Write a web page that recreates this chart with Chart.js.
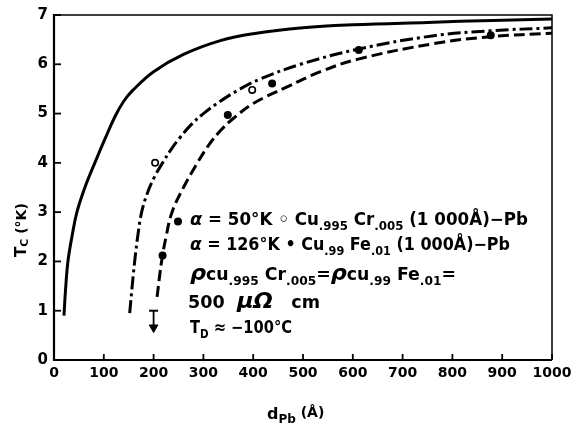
<!DOCTYPE html>
<html lang="en">
<head>
<meta charset="UTF-8">
<title>Tc vs dPb</title>
<script src="https://cdn.jsdelivr.net/npm/chart.js"></script>
<style>
  body { margin: 0; padding: 0; background: #fff; }
  canvas { display: block; }
</style>
</head>
<body>
<canvas id="tcChart" width="578" height="425"></canvas>
<script>
// Pb thickness (Angstrom) vs transition temperature (K)
const xTicks = [0, 100, 200, 300, 400, 500, 600, 700, 800, 900, 1000];
const yTicks = [0, 1, 2, 3, 4, 5, 6, 7];

// solid curve
const solidX = [20, 23, 28, 36, 46, 62, 82, 103, 123, 140, 158, 200, 260, 334, 400, 500, 600, 750, 880, 1000];
const solidY = [0.9, 1.4, 2.0, 2.5, 3.0, 3.5, 4.0, 4.5, 4.95, 5.25, 5.47, 5.85, 6.2, 6.48, 6.62, 6.74, 6.8, 6.85, 6.89, 6.92];

// dash-dot curve, alpha = 50 K (Cu.995 Cr.005)
const crX = [152, 157, 162, 168, 176, 188, 202, 218, 235, 252, 275, 300, 334, 374, 414, 495, 612, 763, 877, 1000];
const crY = [0.95, 1.5, 2.0, 2.5, 3.0, 3.4, 3.72, 4.0, 4.27, 4.5, 4.77, 5.0, 5.25, 5.5, 5.7, 6.0, 6.31, 6.58, 6.68, 6.74];

// dashed curve, alpha = 126 K (Cu.99 Fe.01)
const feX = [207, 212, 216, 225, 237, 260, 285, 310, 334, 360, 401, 468, 535, 609, 763, 877, 1000];
const feY = [1.28, 1.7, 2.0, 2.5, 3.0, 3.5, 3.95, 4.35, 4.65, 4.9, 5.21, 5.54, 5.85, 6.1, 6.42, 6.56, 6.63];

// measured points
const openX = [203, 398];
const openY = [4.0, 5.48];
const filledX = [218, 249, 349, 438, 612, 877];
const filledY = [2.12, 2.81, 4.97, 5.61, 6.29, 6.59];

// upper limit marker
const arrowX = [200, 200];
const arrowY = [1.0, 0.66];

// annotation text: [text, kind] n=normal, s=subscript, g=greek, G=big greek
const noteLine1 = [['α', 'g'], [' = 50°K ◦ Cu', 'n'], ['.995', 's'], [' Cr', 'n'], ['.005', 's'], [' (1 000Å)−Pb', 'n']];
const noteLine2 = [['α', 'g'], [' = 126°K • Cu', 'n'], ['.99', 's'], [' Fe', 'n'], ['.01', 's'], [' (1 000Å)−Pb', 'n']];
const noteLine3 = [['ρ', 'G'], ['cu', 'n'], ['.995', 's'], [' Cr', 'n'], ['.005', 's'], ['=', 'n'], ['ρ', 'G'], ['cu', 'n'], ['.99', 's'], [' Fe', 'n'], ['.01', 's'], ['=', 'n']];
const noteLine4 = [['500  ', 'n'], ['μΩ', 'G'], ['   cm', 'n']];
const noteLine5 = [['T', 'n'], ['D', 's'], [' ≈ −100°C', 'n']];

function pts(xs, ys) {
    return xs.map((x, i) => ({ x: x, y: ys[i] }));
}

const FONT = '"DejaVu Sans", "Liberation Sans", sans-serif';
const kindFont = {
    n: 'bold 17px ' + FONT,
    s: 'bold 12px ' + FONT,
    g: 'italic bold 18px ' + FONT,
    G: 'italic bold 22px ' + FONT
};
const kindDrop = { n: 0, s: 5, g: 0, G: 0 };

function drawRich(ctx, segs, x, y, width) {
    let total = 0;
    segs.forEach(s => { ctx.font = kindFont[s[1]]; total += ctx.measureText(s[0]).width; });
    ctx.save();
    ctx.translate(x, y);
    ctx.scale(width / total, 1);
    let cx = 0;
    segs.forEach(s => {
        ctx.font = kindFont[s[1]];
        ctx.fillText(s[0], cx, kindDrop[s[1]]);
        cx += ctx.measureText(s[0]).width;
    });
    ctx.restore();
}

const framePlugin = {
    id: 'frame',
    afterDraw(chart) {
        const ctx = chart.ctx;
        const a = chart.chartArea;
        const sx = chart.scales.x, sy = chart.scales.y;
        ctx.save();
        ctx.strokeStyle = '#000';
        ctx.fillStyle = '#000';
        // top and right (thin)
        ctx.lineWidth = 1.5;
        ctx.beginPath();
        ctx.moveTo(a.left, a.top); ctx.lineTo(a.right, a.top); ctx.lineTo(a.right, a.bottom);
        ctx.stroke();
        // left and bottom (thick)
        ctx.lineWidth = 2.2;
        ctx.beginPath();
        ctx.moveTo(a.left, a.top - 1); ctx.lineTo(a.left, a.bottom); ctx.lineTo(a.right, a.bottom);
        ctx.stroke();
        // inward ticks
        ctx.lineWidth = 1.8;
        xTicks.forEach(v => {
            const px = sx.getPixelForValue(v);
            ctx.beginPath(); ctx.moveTo(px, a.bottom); ctx.lineTo(px, a.bottom - 6); ctx.stroke();
        });
        yTicks.forEach(v => {
            const py = sy.getPixelForValue(v);
            ctx.beginPath(); ctx.moveTo(a.left, py); ctx.lineTo(a.left + 7, py); ctx.stroke();
        });

        // axis titles
        ctx.textBaseline = 'alphabetic';
        ctx.textAlign = 'left';
        ctx.font = 'bold 16px ' + FONT;
        ctx.fillText('d', 267, 419);
        let w = ctx.measureText('d').width;
        ctx.font = 'bold 12px ' + FONT;
        ctx.fillText('Pb', 267 + w, 423);
        w += ctx.measureText('Pb').width;
        ctx.font = 'bold 14px ' + FONT;
        ctx.fillText(' (Å)', 267 + w, 417);

        ctx.save();
        ctx.translate(26, 257);
        ctx.rotate(-Math.PI / 2);
        ctx.font = 'bold 15px ' + FONT;
        ctx.fillText('T', 0, 0);
        let tw = ctx.measureText('T').width;
        ctx.font = 'bold 11px ' + FONT;
        ctx.fillText('C', tw, 2);
        tw += ctx.measureText('C').width;
        ctx.font = 'bold 14px ' + FONT;
        ctx.fillText(' (°K)', tw, 0);
        ctx.restore();

        // annotation block
        drawRich(ctx, noteLine1, 190, 225, 338);
        drawRich(ctx, noteLine2, 190, 250, 320);
        drawRich(ctx, noteLine3, 190, 280, 266);
        drawRich(ctx, noteLine4, 188, 308, 132);
        drawRich(ctx, noteLine5, 190, 333, 102);
        ctx.restore();
    }
};

const ctx = document.getElementById('tcChart').getContext('2d');
new Chart(ctx, {
    type: 'line',
    data: {
        datasets: [
            { data: pts(solidX, solidY), borderColor: '#000', borderWidth: 3, pointRadius: 0, tension: 0.4, borderCapStyle: 'butt' },
            { data: pts(crX, crY), borderColor: '#000', borderWidth: 3, pointRadius: 0, tension: 0.4, borderDash: [13, 4, 3, 4], borderCapStyle: 'butt' },
            { data: pts(feX, feY), borderColor: '#000', borderWidth: 3, pointRadius: 0, tension: 0.4, borderDash: [11, 5], borderCapStyle: 'butt' },
            { data: pts(openX, openY), showLine: false, pointRadius: 3.2, pointBorderWidth: 1.6, pointBorderColor: '#000', pointBackgroundColor: '#fff' },
            { data: pts(filledX, filledY), showLine: false, pointRadius: 4, pointBorderWidth: 0, pointBackgroundColor: '#000' },
            { data: pts(arrowX, arrowY), borderColor: '#000', borderWidth: 1.8, pointStyle: ['line', 'triangle'], rotation: [0, 180], pointRadius: [4.5, 5], pointBorderWidth: [2, 1], pointBorderColor: '#000', pointBackgroundColor: '#000' }
        ]
    },
    options: {
        responsive: false,
        animation: false,
        layout: { padding: { top: 15, right: 26, left: 0, bottom: 0 } },
        plugins: { legend: { display: false }, tooltip: { enabled: false } },
        scales: {
            x: {
                type: 'linear', min: 0, max: 1000,
                afterBuildTicks: s => { s.ticks = xTicks.map(v => ({ value: v })); },
                ticks: { color: '#000', font: { family: FONT, size: 14, weight: 'bold' }, padding: 5, maxRotation: 0, autoSkip: false, callback: v => String(v) },
                grid: { display: false, drawTicks: false },
                border: { display: false },
                afterFit: s => { s.height = 65; }
            },
            y: {
                type: 'linear', min: 0, max: 7,
                afterBuildTicks: s => { s.ticks = yTicks.map(v => ({ value: v })); },
                ticks: { color: '#000', font: { family: FONT, size: 15, weight: 'bold' }, padding: 6 },
                grid: { display: false, drawTicks: false },
                border: { display: false },
                afterFit: s => { s.width = 54; }
            }
        }
    },
    plugins: [framePlugin]
});
</script>
</body>
</html>
